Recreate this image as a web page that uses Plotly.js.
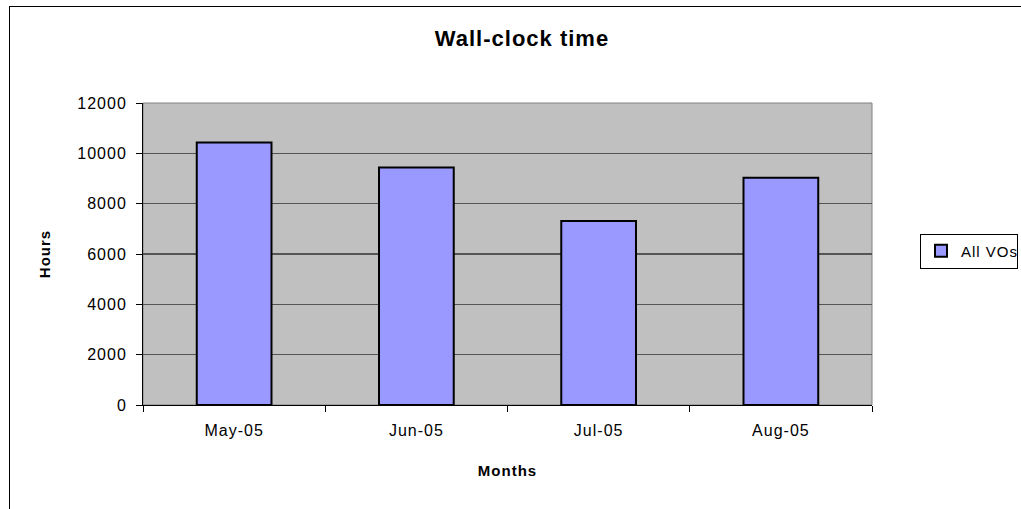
<!DOCTYPE html>
<html>
<head>
<meta charset="utf-8">
<script src="https://cdn.plot.ly/plotly-3.0.1.min.js"></script>
<style>
html,body{margin:0;padding:0;background:#fff;overflow:hidden;width:1021px;height:509px;}
#chart{width:1100px;height:509px;}
#chart text{letter-spacing:1px;}
</style>
</head>
<body>
<div id="chart"></div>
<script>
var months = ["May-05", "Jun-05", "Jul-05", "Aug-05"];
var hours = [10430, 9440, 7310, 9030];
var seriesName = "All VOs";
var yTicks = [0, 2000, 4000, 6000, 8000, 10000, 12000];

var FW = 1100, FH = 509;
var L = 143, R = FW - 872, T = 103, B = FH - 405;
var W = FW - L - R, H = FH - T - B;
function px(x) { return (x - L) / W; }
function py(y) { return (FH - B - y) / H; }

var trace = {
  type: "bar",
  x: months,
  y: hours,
  name: seriesName,
  width: 0.41,
  marker: {color: "#9999ff", line: {color: "#000000", width: 2}},
  showlegend: true
};

var layout = {
  width: FW, height: FH,
  margin: {l: L, r: R, t: T, b: B, pad: 0},
  paper_bgcolor: "#ffffff",
  plot_bgcolor: "#c0c0c0",
  font: {family: "Liberation Sans, Arial, sans-serif", size: 16, color: "#000"},
  title: {text: "<b>Wall-clock time</b>", font: {size: 22, color: "#000"}, x: px(522), xref: "paper", xanchor: "center", y: 1 - 38/FH, yanchor: "middle"},
  xaxis: {
    title: {text: "<b>Months</b>", font: {size: 15}, standoff: 27},
    showline: true, linecolor: "#000", linewidth: 1,
    ticks: "outside", ticklen: 6, tickcolor: "#000",
    tickson: "boundaries", ticklabelstandoff: 11,
    showgrid: false, zeroline: false, mirror: false
  },
  yaxis: {
    title: {text: "<b>Hours</b>", font: {size: 15}, standoff: 28},
    range: [0, 12000], tickvals: yTicks, ticktext: yTicks.map(String),
    showline: true, linecolor: "#000", linewidth: 1,
    ticks: "outside", ticklen: 6, tickcolor: "#000",
    ticklabelstandoff: 6,
    showgrid: true, gridcolor: "#555555", gridwidth: 1.5,
    zeroline: false
  },
  legend: {
    x: px(920), xanchor: "left", y: py(251), yanchor: "middle",
    bgcolor: "#fff", bordercolor: "#000", borderwidth: 1,
    font: {size: 15}, itemwidth: 30
  },
  shapes: [
    {type: "rect", xref: "paper", yref: "paper", x0: 0, x1: 1, y0: 0, y1: 1, line: {color: "#808080", width: 1}, fillcolor: "rgba(0,0,0,0)", layer: "below"},
    {type: "line", xref: "paper", yref: "paper", x0: px(9.5), x1: px(9.5), y0: py(6), y1: py(520), line: {color: "#000", width: 1}},
    {type: "line", xref: "paper", yref: "paper", x0: px(9), x1: px(1100), y0: py(6.5), y1: py(6.5), line: {color: "#000", width: 1}}
  ]
};

Plotly.newPlot("chart", [trace], layout, {displayModeBar: false, staticPlot: true});
</script>
</body>
</html>
